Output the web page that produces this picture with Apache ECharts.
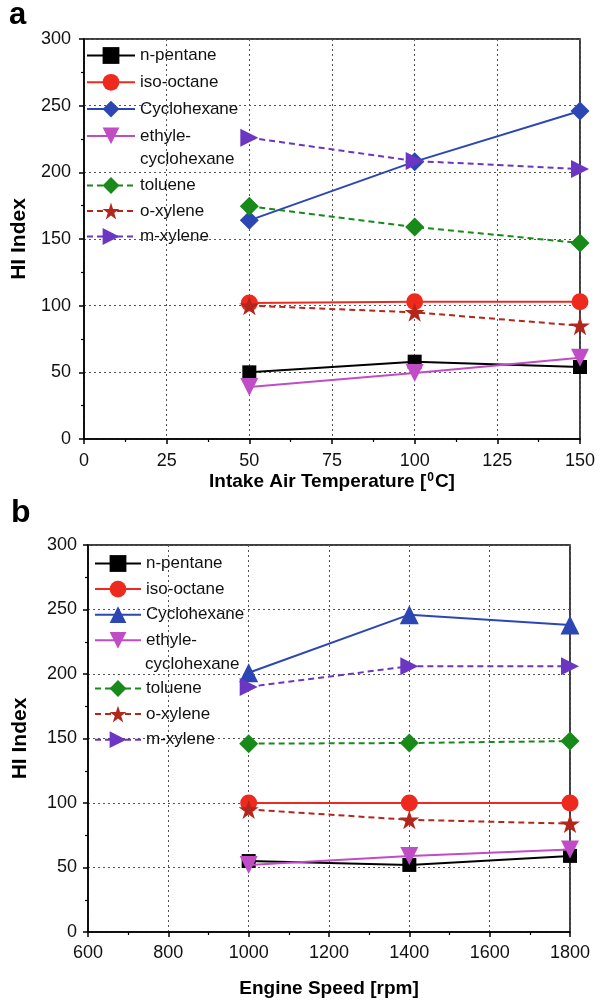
<!DOCTYPE html>
<html>
<head>
<meta charset="utf-8">
<script src="https://cdn.jsdelivr.net/npm/echarts@6/dist/echarts.min.js"></script>
<style>
html,body{margin:0;padding:0;background:#fff;}
#chart{width:603px;height:1003px;}
</style>
</head>
<body>
<div id="chart"></div>
<script>
// ---- data ----
const seriesNames = ['n-pentane', 'iso-octane', 'Cyclohexane', 'ethyle-cyclohexane', 'toluene', 'o-xylene', 'm-xylene'];

// panel a: HI index vs intake air temperature
const tempX = [50, 100, 150];
const tempNPentane = [50, 58, 54];
const tempIsoOctane = [102, 103, 103];
const tempCyclohexane = [164, 208, 246];
const tempEthylcyclohexane = [39, 49.5, 61];
const tempToluene = [174.5, 159, 147];
const tempOXylene = [100, 95, 85];
const tempMXylene = [226, 208.5, 202.5];

// panel b: HI index vs engine speed
const speedX = [1000, 1400, 1800];
const speedNPentane = [55, 52, 59];
const speedIsoOctane = [100, 100, 100];
const speedCyclohexane = [201, 246, 238];
const speedEthylcyclohexane = [52, 59, 64];
const speedToluene = [146, 146.5, 148];
const speedOXylene = [95, 87, 84];
const speedMXylene = [190, 206, 206];

const tempTicks = [0, 25, 50, 75, 100, 125, 150];
const speedTicks = [600, 800, 1000, 1200, 1400, 1600, 1800];
const hiTicks = [0, 50, 100, 150, 200, 250, 300];

// ---- styles ----
const FONT = 'Liberation Sans';
const STAR = 'path://M50,0 L61.8,35.3 L98.9,35.3 L68.9,57.1 L80.4,92.7 L50,70.8 L19.6,92.7 L31.1,57.1 L1.1,35.3 L38.2,35.3 Z';
const colors = ['#000000', '#ee2a1e', '#2c47b3', '#c04cc6', '#178a1a', '#b3261c', '#6a36c2'];
const dashed = [false, false, false, false, true, true, true];
const symbolsA = ['rect', 'circle', 'diamond', 'triangle', 'diamond', STAR, 'triangle'];
const symbolsB = ['rect', 'circle', 'triangle', 'triangle', 'diamond', STAR, 'triangle'];
const rotations = [0, 0, 0, 180, 0, 0, -90];
const sizes = [14, 17, 19, 18, 19, 20, 18];
const SUFFIX = ' (b)';

function buildSeries(xs, arrays, symbols, axisIndex, suffix) {
  return arrays.map(function (vals, i) {
    return {
      name: seriesNames[i] + suffix,
      type: 'line',
      xAxisIndex: axisIndex,
      yAxisIndex: axisIndex,
      data: xs.map(function (x, k) { return [x, vals[k]]; }),
      symbol: symbols[i],
      symbolSize: sizes[i],
      symbolRotate: rotations[i],
      symbolKeepAspect: true,
      showSymbol: true,
      color: colors[i],
      lineStyle: { color: colors[i], width: 2, type: dashed[i] ? [6, 4] : 'solid' },
      itemStyle: { color: colors[i], borderWidth: 0 },
      emphasis: { disabled: true },
      z: 3 + i
    };
  });
}

function xAxisCfg(grid, min, max, interval, name, gap, margin, rich) {
  return {
    gridIndex: grid, type: 'value', min: min, max: max, interval: interval,
    name: name, nameLocation: 'middle', nameGap: gap,
    nameTextStyle: { fontFamily: FONT, fontSize: 19, fontWeight: 'bold', color: '#000', rich: rich || {} },
    axisLine: { show: true, onZero: false, lineStyle: { color: '#000', width: 1.5 } },
    axisTick: { show: true, length: 5, lineStyle: { color: '#000', width: 1.5 } },
    minorTick: { show: true, splitNumber: 2, length: 3, lineStyle: { color: '#000', width: 1.2 } },
    axisLabel: { fontFamily: FONT, fontSize: 18, color: '#111', margin: margin, formatter: function (v) { return String(v); } },
    splitLine: { show: true, lineStyle: { color: '#555', width: 1, type: [2, 3] } },
    minorSplitLine: { show: false }
  };
}
function yAxisCfg(grid, gap, margin) {
  return {
    gridIndex: grid, type: 'value', min: hiTicks[0], max: hiTicks[hiTicks.length - 1], interval: hiTicks[1] - hiTicks[0],
    name: 'HI Index', nameLocation: 'middle', nameGap: gap, nameRotate: 90,
    nameTextStyle: { fontFamily: FONT, fontSize: 21, fontWeight: 'bold', color: '#000' },
    axisLine: { show: true, onZero: false, lineStyle: { color: '#000', width: 1.5 } },
    axisTick: { show: true, length: 5, lineStyle: { color: '#000', width: 1.5 } },
    minorTick: { show: true, splitNumber: 2, length: 3, lineStyle: { color: '#000', width: 1.2 } },
    axisLabel: { fontFamily: FONT, fontSize: 18, color: '#111', margin: margin, formatter: function (v) { return String(v); } },
    splitLine: { show: true, lineStyle: { color: '#555', width: 1, type: [2, 3] } }
  };
}

function legendCfg(left, top, itemWidth, gap, names, suffix) {
  return {
    orient: 'vertical', left: left, top: top, padding: 0,
    itemWidth: itemWidth, itemHeight: 21, itemGap: gap,
    selectedMode: false,
    textStyle: { fontFamily: FONT, fontSize: 17, lineHeight: 20, color: '#111' },
    data: names.map(function (n) { return n + suffix; }),
    formatter: function (name) {
      let s = name.replace(SUFFIX, '');
      if (s === 'ethyle-cyclohexane') s = 'ethyle-';
      return s;
    }
  };
}

const firstNames = seriesNames.slice(0, 4);
const lastNames = seriesNames.slice(4);

function contText(x, y) {
  return {
    type: 'text', left: x, top: y, silent: true,
    style: { text: 'cyclohexane', fontFamily: FONT, fontSize: 17, fill: '#111' }
  };
}

const option = {
  animation: false,
  backgroundColor: '#fff',
  textStyle: { fontFamily: FONT },
  title: [
    { text: 'a', left: 9, top: 0, padding: 0, textStyle: { fontFamily: FONT, fontSize: 31, fontWeight: 'bold', color: '#000' } },
    { text: 'b', left: 11, top: 497, padding: 0, textStyle: { fontFamily: FONT, fontSize: 32, fontWeight: 'bold', color: '#000' } }
  ],
  grid: [
    { left: 84, top: 39, width: 496, height: 400, show: true, borderColor: '#000', borderWidth: 1.5, backgroundColor: 'transparent' },
    { left: 88, top: 545, width: 482, height: 387, show: true, borderColor: '#000', borderWidth: 1.5, backgroundColor: 'transparent' }
  ],
  xAxis: [
    xAxisCfg(0, tempTicks[0], tempTicks[tempTicks.length - 1], tempTicks[1] - tempTicks[0],
      'Intake Air Temperature [{s|0}C]', 33, 13,
      { s: { fontFamily: FONT, fontSize: 12, fontWeight: 'bold', color: '#000', verticalAlign: 'top', padding: [0, 1, 8, 1] } }),
    xAxisCfg(1, speedTicks[0], speedTicks[speedTicks.length - 1], speedTicks[1] - speedTicks[0],
      'Engine Speed [rpm]', 47, 12)
  ],
  yAxis: [yAxisCfg(0, 53, 13), yAxisCfg(1, 57, 11)],
  legend: [
    legendCfg(86, 45.5, 48, 6.8, firstNames, ''),
    legendCfg(86, 175.5, 48, 5.5, lastNames, ''),
    legendCfg(94, 553.5, 46, 5.6, firstNames, SUFFIX),
    legendCfg(94, 678.5, 46, 5.6, lastNames, SUFFIX)
  ],
  graphic: [contText(140, 151), contText(145, 656)],
  series: [].concat(
    buildSeries(tempX, [tempNPentane, tempIsoOctane, tempCyclohexane, tempEthylcyclohexane, tempToluene, tempOXylene, tempMXylene], symbolsA, 0, ''),
    buildSeries(speedX, [speedNPentane, speedIsoOctane, speedCyclohexane, speedEthylcyclohexane, speedToluene, speedOXylene, speedMXylene], symbolsB, 1, SUFFIX)
  )
};

const chart = echarts.init(document.getElementById('chart'), null, { renderer: 'canvas' });
chart.setOption(option);
</script>
</body>
</html>
